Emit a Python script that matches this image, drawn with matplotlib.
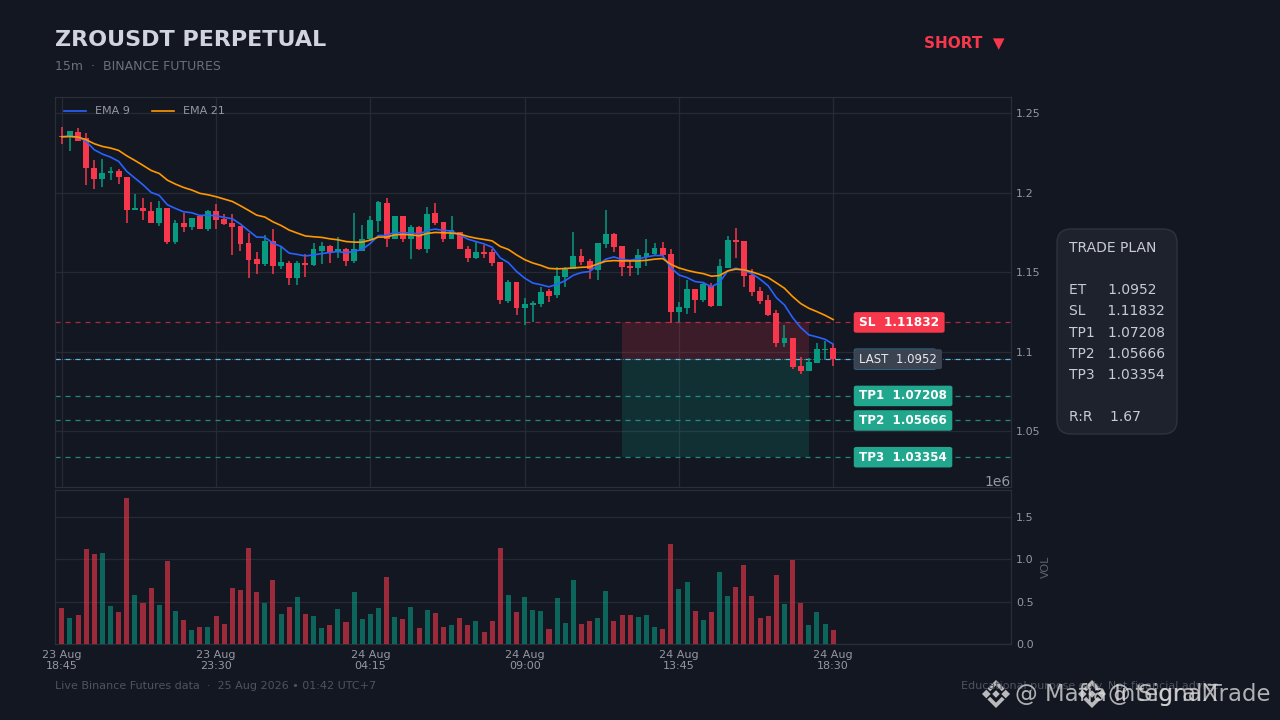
import matplotlib
matplotlib.use("Agg")
import numpy as np
import matplotlib.pyplot as plt
from matplotlib.patches import FancyBboxPatch, Polygon, Rectangle
from matplotlib.transforms import IdentityTransform

BG = "#131722"
GRID = "#262a34"
SPINE = "#2a2e39"
TICK = "#9598a1"
UP = "#089981"
DOWN = "#f7374b"
TEAL = "#26a69a"

tick_idx = [0, 19, 38, 57, 76, 95]
tick_labels = ["23 Aug\n18:45", "23 Aug\n23:30", "24 Aug\n04:15", "24 Aug\n09:00", "24 Aug\n13:45", "24 Aug\n18:30"]

opens = [1.2355, 1.2351, 1.2380, 1.2343, 1.2154, 1.2083, 1.2125, 1.2137, 1.2099, 1.1888, 1.1904, 1.1886,
         1.1810, 1.1904, 1.1686, 1.1810, 1.1785, 1.1850, 1.1772, 1.1886, 1.1835, 1.1810, 1.1791, 1.1684,
         1.1584, 1.1552, 1.1697, 1.1540, 1.1559, 1.1464, 1.1559, 1.1547, 1.1635, 1.1661, 1.1623, 1.1648,
         1.1572, 1.1635, 1.1705, 1.1819, 1.1937, 1.1711, 1.1853, 1.1705, 1.1781, 1.1648, 1.1869, 1.1813,
         1.1711, 1.1751, 1.1648, 1.1591, 1.1629, 1.1623, 1.1566, 1.1319, 1.1439, 1.1274, 1.1293, 1.1300,
         1.1382, 1.1354, 1.1467, 1.1518, 1.1600, 1.1568, 1.1511, 1.1675, 1.1738, 1.1662, 1.1537, 1.1524,
         1.1593, 1.1612, 1.1650, 1.1612, 1.1247, 1.1272, 1.1392, 1.1323, 1.1411, 1.1285, 1.1524, 1.1700,
         1.1694, 1.1480, 1.1379, 1.1323, 1.1241, 1.1052, 1.1084, 1.0908, 1.0876, 1.0926, 1.1008, 1.1021]
closes = [1.2350, 1.2389, 1.2326, 1.2152, 1.2083, 1.2125, 1.2137, 1.2095, 1.1888, 1.1904, 1.1881, 1.1810,
          1.1904, 1.1686, 1.1810, 1.1785, 1.1839, 1.1772, 1.1886, 1.1829, 1.1804, 1.1785, 1.1678, 1.1577,
          1.1552, 1.1697, 1.1540, 1.1565, 1.1464, 1.1559, 1.1547, 1.1648, 1.1661, 1.1623, 1.1648, 1.1572,
          1.1642, 1.1705, 1.1825, 1.1941, 1.1711, 1.1853, 1.1705, 1.1781, 1.1646, 1.1863, 1.1810, 1.1711,
          1.1764, 1.1642, 1.1591, 1.1629, 1.1616, 1.1559, 1.1325, 1.1439, 1.1274, 1.1300, 1.1306, 1.1376,
          1.1350, 1.1474, 1.1524, 1.1600, 1.1562, 1.1518, 1.1681, 1.1738, 1.1656, 1.1530, 1.1524, 1.1606,
          1.1618, 1.1650, 1.1606, 1.1247, 1.1279, 1.1392, 1.1323, 1.1423, 1.1285, 1.1537, 1.1700, 1.1688,
          1.1474, 1.1373, 1.1316, 1.1228, 1.1052, 1.1084, 1.0901, 1.0876, 1.0933, 1.1014, 1.1014, 1.0952]
highs = [1.2412, 1.2389, 1.2405, 1.2374, 1.2204, 1.2208, 1.2160, 1.2150, 1.2099, 1.1990, 1.1965, 1.1940,
         1.1944, 1.1904, 1.1825, 1.1873, 1.1839, 1.1850, 1.1890, 1.1928, 1.1865, 1.1865, 1.1791, 1.1747,
         1.1626, 1.1730, 1.1770, 1.1655, 1.1569, 1.1571, 1.1615, 1.1682, 1.1688, 1.1671, 1.1720, 1.1654,
         1.1874, 1.1798, 1.1853, 1.1950, 1.1964, 1.1853, 1.1853, 1.1798, 1.1789, 1.1912, 1.1937, 1.1813,
         1.1853, 1.1751, 1.1665, 1.1688, 1.1671, 1.1642, 1.1566, 1.1452, 1.1439, 1.1336, 1.1319, 1.1405,
         1.1395, 1.1532, 1.1534, 1.1755, 1.1648, 1.1581, 1.1681, 1.1893, 1.1748, 1.1662, 1.1568, 1.1648,
         1.1711, 1.1685, 1.1692, 1.1648, 1.1312, 1.1451, 1.1392, 1.1434, 1.1430, 1.1585, 1.1727, 1.1780,
         1.1694, 1.1518, 1.1409, 1.1358, 1.1264, 1.1165, 1.1084, 1.0968, 1.0958, 1.1056, 1.1065, 1.1046]
lows = [1.2305, 1.2263, 1.2326, 1.2047, 1.2022, 1.2034, 1.2078, 1.2053, 1.1808, 1.1888, 1.1827, 1.1806,
        1.1789, 1.1676, 1.1676, 1.1751, 1.1764, 1.1772, 1.1758, 1.1768, 1.1793, 1.1607, 1.1632, 1.1462,
        1.1487, 1.1538, 1.1489, 1.1519, 1.1416, 1.1418, 1.1466, 1.1540, 1.1551, 1.1555, 1.1587, 1.1536,
        1.1557, 1.1635, 1.1701, 1.1751, 1.1656, 1.1707, 1.1688, 1.1580, 1.1639, 1.1620, 1.1798, 1.1688,
        1.1711, 1.1642, 1.1561, 1.1580, 1.1591, 1.1536, 1.1302, 1.1304, 1.1232, 1.1167, 1.1188, 1.1279,
        1.1312, 1.1339, 1.1409, 1.1518, 1.1543, 1.1457, 1.1451, 1.1654, 1.1623, 1.1476, 1.1476, 1.1484,
        1.1539, 1.1606, 1.1602, 1.1182, 1.1188, 1.1233, 1.1245, 1.1312, 1.1281, 1.1285, 1.1524, 1.1587,
        1.1407, 1.1350, 1.1300, 1.1224, 1.1031, 1.1027, 1.0889, 1.0861, 1.0876, 1.0926, 1.0952, 1.0910]
ema9 = [1.2351, 1.2353, 1.2349, 1.2322, 1.2269, 1.2242, 1.2223, 1.2196, 1.2133, 1.2091, 1.2049, 1.2001,
        1.1982, 1.1923, 1.1900, 1.1879, 1.1873, 1.1856, 1.1858, 1.1854, 1.1844, 1.1835, 1.1802, 1.1760,
        1.1720, 1.1718, 1.1682, 1.1661, 1.1619, 1.1611, 1.1601, 1.1608, 1.1616, 1.1623, 1.1629, 1.1621,
        1.1631, 1.1642, 1.1680, 1.1730, 1.1730, 1.1751, 1.1745, 1.1749, 1.1737, 1.1762, 1.1770, 1.1762,
        1.1758, 1.1734, 1.1707, 1.1692, 1.1677, 1.1656, 1.1589, 1.1559, 1.1504, 1.1462, 1.1431, 1.1420,
        1.1407, 1.1423, 1.1446, 1.1480, 1.1497, 1.1503, 1.1543, 1.1581, 1.1595, 1.1579, 1.1574, 1.1583,
        1.1595, 1.1604, 1.1604, 1.1528, 1.1482, 1.1465, 1.1440, 1.1434, 1.1407, 1.1434, 1.1507, 1.1524,
        1.1511, 1.1490, 1.1455, 1.1413, 1.1339, 1.1293, 1.1214, 1.1151, 1.1105, 1.1092, 1.1077, 1.1046]
ema21 = [1.2351, 1.2353, 1.2349, 1.2332, 1.2307, 1.2290, 1.2280, 1.2265, 1.2231, 1.2202, 1.2171, 1.2139,
         1.2120, 1.2078, 1.2053, 1.2032, 1.2016, 1.1995, 1.1986, 1.1974, 1.1959, 1.1944, 1.1917, 1.1888,
         1.1858, 1.1846, 1.1816, 1.1793, 1.1764, 1.1745, 1.1727, 1.1722, 1.1718, 1.1709, 1.1703, 1.1692,
         1.1688, 1.1688, 1.1701, 1.1720, 1.1720, 1.1734, 1.1737, 1.1734, 1.1728, 1.1743, 1.1749, 1.1747,
         1.1745, 1.1739, 1.1724, 1.1713, 1.1705, 1.1696, 1.1661, 1.1642, 1.1608, 1.1578, 1.1557, 1.1542,
         1.1523, 1.1520, 1.1522, 1.1526, 1.1530, 1.1532, 1.1551, 1.1568, 1.1572, 1.1570, 1.1570, 1.1570,
         1.1574, 1.1581, 1.1585, 1.1549, 1.1526, 1.1511, 1.1499, 1.1490, 1.1474, 1.1478, 1.1507, 1.1518,
         1.1514, 1.1501, 1.1484, 1.1465, 1.1432, 1.1398, 1.1346, 1.1302, 1.1272, 1.1251, 1.1228, 1.1201]
volume = [0.426, 0.308, 0.343, 1.125, 1.065, 1.077, 0.450, 0.379, 1.728, 0.580, 0.489, 0.663,
          0.462, 0.983, 0.391, 0.284, 0.166, 0.201, 0.201, 0.331, 0.237, 0.663, 0.639, 1.137,
          0.616, 0.485, 0.758, 0.355, 0.438, 0.556, 0.355, 0.331, 0.189, 0.225, 0.414, 0.260,
          0.616, 0.296, 0.355, 0.426, 0.793, 0.320, 0.296, 0.438, 0.189, 0.403, 0.367, 0.201,
          0.225, 0.308, 0.225, 0.272, 0.142, 0.272, 1.137, 0.580, 0.379, 0.556, 0.403, 0.391,
          0.178, 0.545, 0.249, 0.758, 0.237, 0.272, 0.308, 0.627, 0.272, 0.343, 0.343, 0.320,
          0.343, 0.201, 0.178, 1.184, 0.651, 0.734, 0.391, 0.284, 0.379, 0.852, 0.568, 0.675,
          0.935, 0.568, 0.308, 0.331, 0.817, 0.474, 0.994, 0.485, 0.225, 0.379, 0.237, 0.166]

entry = 1.0952
sl = 1.11832
tp1 = 1.07208
tp2 = 1.05666
tp3 = 1.03354
zone_start = 69
zone_end = 92

plan_text = "TRADE PLAN\n\nET     1.0952\nSL     1.11832\nTP1   1.07208\nTP2   1.05666\nTP3   1.03354\n\nR:R    1.67"

x = np.arange(len(closes))
o = np.array(opens)
c = np.array(closes)
colors = [UP if c[i] >= o[i] else DOWN for i in x]

fig = plt.figure(figsize=(12.8, 7.2), dpi=100, facecolor=BG)
ax = fig.add_axes([54.5 / 1280, 233 / 720, 956.5 / 1280, 390 / 720], facecolor=BG)
ax_v = fig.add_axes([54.5 / 1280, 76 / 720, 956.5 / 1280, 154 / 720], facecolor=BG)

# zones go under the candles
ax.add_patch(Rectangle((zone_start, entry), zone_end - zone_start, sl - entry, fc=DOWN, alpha=0.18, lw=0, zorder=1))
ax.add_patch(Rectangle((zone_start, tp3), zone_end - zone_start, entry - tp3, fc=UP, alpha=0.2, lw=0, zorder=1))

# candles
ax.vlines(x, lows, highs, colors=colors, lw=1.1, zorder=3)
ax.bar(x, np.abs(c - o), bottom=np.minimum(c, o), width=0.72, color=colors, lw=0, zorder=4)

ax.plot(x, ema9, color="#2962ff", lw=1.2, label="EMA 9", zorder=5)
ax.plot(x, ema21, color="#ff9800", lw=1.2, label="EMA 21", zorder=5)

# levels
ax.axhline(sl, color=DOWN, lw=0.9, ls=(0, (4, 4)), alpha=0.65, zorder=2)
ax.axhline(entry, color="#4fc3f7", lw=0.9, ls=(0, (4, 4)), alpha=0.9, zorder=2)
ax.axhline(entry, color="#d8dce4", lw=0.6, ls=":", alpha=0.5, zorder=2)
ax.axhline(tp1, color=TEAL, lw=0.9, ls=(0, (4, 4)), alpha=0.8, zorder=2)
ax.axhline(tp2, color=TEAL, lw=0.9, ls=(0, (4, 4)), alpha=0.8, zorder=2)
ax.axhline(tp3, color=TEAL, lw=0.9, ls=(0, (4, 4)), alpha=0.8, zorder=2)

label_x = 98.2
box = "round,pad=0.45,rounding_size=0.22"
ax.text(label_x, sl, "SL  1.11832", color="white", fontsize=8.7, fontweight="bold", va="center", zorder=7,
        bbox=dict(boxstyle=box, fc=DOWN, ec="none", mutation_aspect=0.7))
ax.text(label_x, entry, "ET  1.0952", color="#3b4250", fontsize=8.7, fontweight="bold", va="center", zorder=6,
        bbox=dict(boxstyle=box, fc="#2f6f90", ec="none", mutation_aspect=0.78))
ax.text(label_x, entry, "LAST  1.0952", color="#e6e8ec", fontsize=8.5, va="center", zorder=7,
        bbox=dict(boxstyle="round,pad=0.42,rounding_size=0.22", fc="#3b4250", ec="none", mutation_aspect=0.7))
for level, name in [(tp1, "TP1"), (tp2, "TP2"), (tp3, "TP3")]:
    ax.text(label_x, level, name + "  %.5f" % level, color="white", fontsize=8.6, fontweight="bold", va="center",
            zorder=7, bbox=dict(boxstyle=box, fc="#22a78f", ec="none", mutation_aspect=0.7))

ax.set_xlim(-0.9, 116.9)
ax.set_ylim(1.0148, 1.2601)
ax.set_yticks([1.05, 1.1, 1.15, 1.2, 1.25])
ax.set_yticklabels(["1.05", "1.1", "1.15", "1.2", "1.25"])
ax.yaxis.tick_right()
ax.set_xticks(tick_idx)
ax.tick_params(axis="x", length=0, labelbottom=False)
ax.tick_params(axis="y", length=0, labelsize=8, labelcolor=TICK, pad=3.5)
ax.grid(True, color=GRID, lw=0.9, zorder=0)
ax.set_axisbelow(True)
ax.legend(loc="upper left", ncol=2, frameon=False, fontsize=8, labelcolor=TICK, borderaxespad=0.45,
          handlelength=2, columnspacing=2)

# volume
ax_v.bar(x, np.array(volume) * 1e6, width=0.62, color=colors, alpha=0.6, lw=0, zorder=3)
ax_v.set_xlim(-0.9, 116.9)
ax_v.set_ylim(0, 1.819e6)
ax_v.set_yticks([0, 0.5e6, 1e6, 1.5e6])
ax_v.yaxis.tick_right()
ax_v.yaxis.set_offset_position("right")
ax_v.yaxis.get_offset_text().set_color(TICK)
ax_v.yaxis.get_offset_text().set_fontsize(10)
ax_v.yaxis.set_label_position("right")
ax_v.set_ylabel("VOL", color="#5f636e", fontsize=8, labelpad=5)
ax_v.set_xticks(tick_idx)
ax_v.set_xticklabels(tick_labels)
ax_v.tick_params(axis="both", length=0, labelsize=8, labelcolor=TICK)
ax_v.tick_params(axis="x", pad=4)
ax_v.tick_params(axis="y", pad=3.5)
ax_v.grid(True, axis="y", color=GRID, lw=0.9, zorder=4)
ax_v.set_axisbelow(False)

for a in [ax, ax_v]:
    for s in a.spines.values():
        s.set_color(SPINE)
        s.set_linewidth(0.9)

# header
fig.text(55 / 1280, 1 - 40 / 720, "ZROUSDT PERPETUAL", color="#d1d4dc", fontsize=16, fontweight="bold", va="center")
fig.text(55 / 1280, 1 - 66 / 720, "15m  ·  BINANCE FUTURES", color="#6b6f7a", fontsize=9, va="center")
fig.text(1005 / 1280, 1 - 43 / 720, "SHORT  ▼", color=DOWN, fontsize=11, fontweight="bold", va="center", ha="right")

# trade plan box
px = IdentityTransform()
fig.add_artist(FancyBboxPatch((1066, 295), 102, 187, boxstyle="round,pad=9,rounding_size=14",
                              fc="#1e222d", ec="#2f333e", lw=1, transform=px))
fig.text(1069 / 1280, 1 - 241 / 720, plan_text, color="#c8cbd3", fontsize=10, va="top", linespacing=1.65)

# footer
fig.text(55 / 1280, 1 - 686 / 720, "Live Binance Futures data  ·  25 Aug 2026 • 01:42 UTC+7", color="#4f535e",
         fontsize=8, va="center")
fig.text(961 / 1280, 1 - 686 / 720, "Educational purpose only. Not financial advice", color="#4f535e",
         fontsize=8, va="center", ha="left")


def logo(cx, cy, r):
    # binance style mark, pixel coords
    col = "#d8d8d8"
    s = r / 13.0
    shapes = [
        [(0, 3.5), (3.5, 0), (0, -3.5), (-3.5, 0)],
        [(-13, 0), (-9, 4), (-5, 0), (-9, -4)],
        [(13, 0), (9, 4), (5, 0), (9, -4)],
        [(0, 13), (8, 5), (5.4, 2.6), (0, 8), (-5.4, 2.6), (-8, 5)],
        [(0, -13), (8, -5), (5.4, -2.6), (0, -8), (-5.4, -2.6), (-8, -5)],
    ]
    for sh in shapes:
        pts = [(cx + a * s, 720 - cy + b * s) for a, b in sh]
        fig.add_artist(Polygon(pts, closed=True, fc=col, ec="none", alpha=0.85, transform=px))


logo(996, 694, 14)
fig.text(1015 / 1280, 1 - 695 / 720, "@ Mafia IntegralX", color="#d8d8d8", alpha=0.8, fontsize=16.4, va="center")
logo(1092, 694, 14)
fig.text(1108 / 1280, 1 - 695 / 720, "@ SignalTrade", color="#d8d8d8", alpha=0.8, fontsize=16.4, va="center")

fig.savefig("out.png", dpi=100, facecolor=BG)
